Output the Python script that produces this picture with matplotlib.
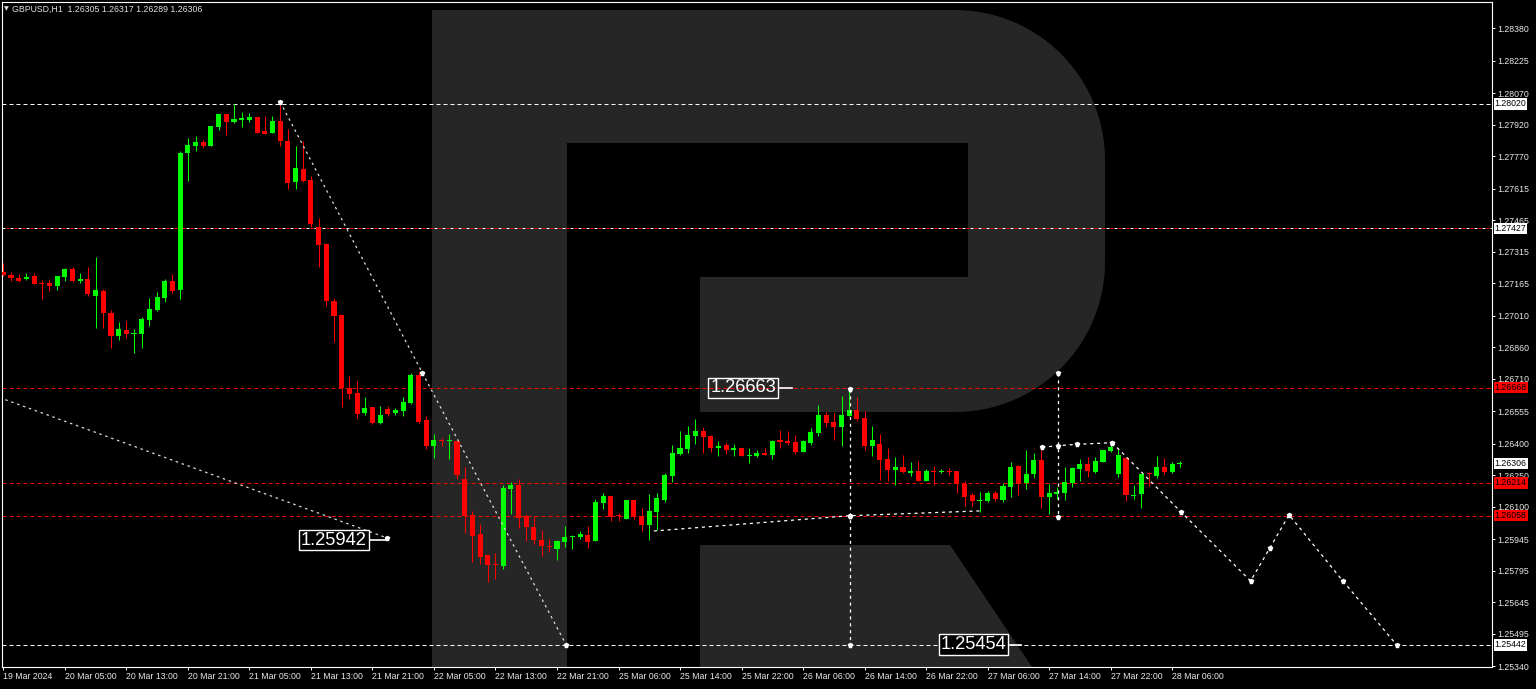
import matplotlib
matplotlib.use("Agg")
import matplotlib.pyplot as plt
import numpy as np
from matplotlib.patches import Polygon
from matplotlib.transforms import blended_transform_factory

plt.rcParams['font.family'] = ['Liberation Sans', 'DejaVu Sans']

header_text = "GBPUSD,H1  1.26305 1.26317 1.26289 1.26306"

opens = [1.27219, 1.27205, 1.27192, 1.27186, 1.27200, 1.27167, 1.27169, 1.27153, 1.27197, 1.27234,
         1.27178, 1.27188, 1.27104, 1.27130, 1.27026, 1.26916, 1.26943, 1.26924, 1.26924, 1.26989,
         1.27038, 1.27096, 1.27178, 1.27135, 1.27788, 1.27820, 1.27839, 1.27820, 1.27912, 1.27971,
         1.27936, 1.27944, 1.27942, 1.27958, 1.27891, 1.27883, 1.27939, 1.27844, 1.27650, 1.27709,
         1.27658, 1.27432, 1.27351, 1.27081, 1.27016, 1.26665, 1.26641, 1.26546, 1.26576, 1.26499,
         1.26567, 1.26549, 1.26557, 1.26594, 1.26729, 1.26513, 1.26389, 1.26420, 1.26413, 1.26414,
         1.26233, 1.26062, 1.25971, 1.25870, 1.25830, 1.25820, 1.26187, 1.26203, 1.26058, 1.26004,
         1.25942, 1.25915, 1.25901, 1.25934, 1.25958, 1.25957, 1.25966, 1.25939, 1.26119, 1.26151,
         1.26060, 1.26044, 1.26131, 1.26057, 1.26012, 1.26076, 1.26133, 1.26247, 1.26352, 1.26375,
         1.26439, 1.26462, 1.26439, 1.26382, 1.26394, 1.26371, 1.26379, 1.26344, 1.26343, 1.26357,
         1.26347, 1.26419, 1.26416, 1.26411, 1.26362, 1.26406, 1.26452, 1.26540, 1.26503, 1.26481,
         1.26535, 1.26562, 1.26525, 1.26389, 1.26401, 1.26328, 1.26275, 1.26292, 1.26260, 1.26270,
         1.26225, 1.26270, 1.26265, 1.26271, 1.26270, 1.26211, 1.26158, 1.26127, 1.26127, 1.26168,
         1.26133, 1.26196, 1.26297, 1.26213, 1.26256, 1.26325, 1.26146, 1.26162, 1.26168, 1.26214,
         1.26279, 1.26305, 1.26268, 1.26316, 1.26367, 1.26257, 1.26332, 1.26152, 1.26160, 1.26263,
         1.26247, 1.26292, 1.26268, 1.26305]
highs = [1.27262, 1.27218, 1.27209, 1.27215, 1.27215, 1.27181, 1.27181, 1.27202, 1.27239, 1.27242,
         1.27215, 1.27242, 1.27291, 1.27140, 1.27038, 1.26981, 1.26985, 1.26948, 1.27004, 1.27096,
         1.27123, 1.27188, 1.27210, 1.27796, 1.27859, 1.27866, 1.27847, 1.27917, 1.27974, 1.27973,
         1.28019, 1.27983, 1.27976, 1.27960, 1.27961, 1.27961, 1.28030, 1.27901, 1.27820, 1.27845,
         1.27677, 1.27475, 1.27356, 1.27094, 1.27018, 1.26724, 1.26702, 1.26625, 1.26578, 1.26581,
         1.26581, 1.26573, 1.26624, 1.26738, 1.26744, 1.26533, 1.26448, 1.26430, 1.26448, 1.26419,
         1.26290, 1.26081, 1.26019, 1.25872, 1.25881, 1.26203, 1.26219, 1.26233, 1.26066, 1.26055,
         1.25989, 1.25947, 1.25940, 1.26008, 1.25965, 1.25985, 1.26008, 1.26136, 1.26168, 1.26153,
         1.26070, 1.26134, 1.26133, 1.26094, 1.26163, 1.26168, 1.26260, 1.26394, 1.26462, 1.26486,
         1.26518, 1.26481, 1.26441, 1.26416, 1.26403, 1.26398, 1.26381, 1.26379, 1.26371, 1.26379,
         1.26420, 1.26467, 1.26462, 1.26443, 1.26420, 1.26476, 1.26586, 1.26552, 1.26548, 1.26627,
         1.26663, 1.26622, 1.26557, 1.26486, 1.26448, 1.26379, 1.26338, 1.26346, 1.26316, 1.26319,
         1.26281, 1.26295, 1.26280, 1.26284, 1.26272, 1.26225, 1.26168, 1.26171, 1.26176, 1.26175,
         1.26213, 1.26316, 1.26299, 1.26371, 1.26356, 1.26384, 1.26209, 1.26196, 1.26292, 1.26289,
         1.26328, 1.26336, 1.26336, 1.26373, 1.26406, 1.26382, 1.26334, 1.26203, 1.26259, 1.26268,
         1.26343, 1.26332, 1.26313, 1.26317]
lows = [1.27200, 1.27178, 1.27172, 1.27181, 1.27160, 1.27091, 1.27130, 1.27135, 1.27178, 1.27172,
        1.27169, 1.27104, 1.26954, 1.26954, 1.26857, 1.26897, 1.26906, 1.26835, 1.26857, 1.26964,
        1.27034, 1.27078, 1.27118, 1.27091, 1.27655, 1.27797, 1.27812, 1.27818, 1.27898, 1.27874,
        1.27930, 1.27912, 1.27936, 1.27881, 1.27875, 1.27881, 1.27820, 1.27614, 1.27614, 1.27647,
        1.27435, 1.27245, 1.27059, 1.26887, 1.26578, 1.26614, 1.26525, 1.26538, 1.26494, 1.26494,
        1.26535, 1.26538, 1.26535, 1.26591, 1.26499, 1.26375, 1.26335, 1.26392, 1.26328, 1.26232,
        1.25976, 1.25839, 1.25830, 1.25742, 1.25755, 1.25806, 1.26066, 1.25998, 1.25939, 1.25923,
        1.25866, 1.25887, 1.25847, 1.25911, 1.25901, 1.25947, 1.25906, 1.25937, 1.26090, 1.26034,
        1.26034, 1.26042, 1.26044, 1.25987, 1.25942, 1.25990, 1.26122, 1.26220, 1.26347, 1.26357,
        1.26400, 1.26357, 1.26362, 1.26343, 1.26352, 1.26343, 1.26341, 1.26311, 1.26337, 1.26347,
        1.26330, 1.26379, 1.26394, 1.26352, 1.26360, 1.26394, 1.26439, 1.26480, 1.26420, 1.26389,
        1.26533, 1.26508, 1.26371, 1.26343, 1.26230, 1.26225, 1.26206, 1.26260, 1.26247, 1.26223,
        1.26223, 1.26206, 1.26263, 1.26252, 1.26166, 1.26104, 1.26104, 1.26077, 1.26125, 1.26127,
        1.26122, 1.26146, 1.26156, 1.26184, 1.26238, 1.26097, 1.26066, 1.26139, 1.26133, 1.26196,
        1.26225, 1.26241, 1.26260, 1.26314, 1.26363, 1.26244, 1.26128, 1.26136, 1.26096, 1.26198,
        1.26236, 1.26257, 1.26260, 1.26289]
closes = [1.27205, 1.27191, 1.27178, 1.27197, 1.27162, 1.27162, 1.27153, 1.27200, 1.27234, 1.27178,
          1.27188, 1.27113, 1.27135, 1.27026, 1.26916, 1.26948, 1.26925, 1.26929, 1.26994, 1.27043,
          1.27100, 1.27178, 1.27130, 1.27788, 1.27825, 1.27839, 1.27820, 1.27915, 1.27971, 1.27936,
          1.27949, 1.27952, 1.27958, 1.27883, 1.27877, 1.27939, 1.27844, 1.27642, 1.27715, 1.27653,
          1.27450, 1.27350, 1.27083, 1.27011, 1.26665, 1.26637, 1.26543, 1.26571, 1.26499, 1.26538,
          1.26541, 1.26562, 1.26600, 1.26729, 1.26506, 1.26389, 1.26419, 1.26413, 1.26420, 1.26251,
          1.26055, 1.25963, 1.25861, 1.25825, 1.25825, 1.26192, 1.26203, 1.26049, 1.26004, 1.25942,
          1.25912, 1.25908, 1.25938, 1.25957, 1.25963, 1.25973, 1.25934, 1.26122, 1.26151, 1.26051,
          1.26055, 1.26132, 1.26054, 1.26014, 1.26081, 1.26141, 1.26251, 1.26357, 1.26379, 1.26443,
          1.26462, 1.26435, 1.26379, 1.26389, 1.26370, 1.26381, 1.26343, 1.26349, 1.26358, 1.26349,
          1.26416, 1.26409, 1.26406, 1.26360, 1.26416, 1.26457, 1.26540, 1.26499, 1.26481, 1.26540,
          1.26562, 1.26520, 1.26389, 1.26419, 1.26325, 1.26275, 1.26292, 1.26265, 1.26270, 1.26225,
          1.26270, 1.26265, 1.26270, 1.26266, 1.26211, 1.26149, 1.26130, 1.26133, 1.26168, 1.26136,
          1.26200, 1.26292, 1.26211, 1.26256, 1.26325, 1.26146, 1.26164, 1.26173, 1.26219, 1.26287,
          1.26305, 1.26270, 1.26319, 1.26371, 1.26387, 1.26347, 1.26156, 1.26158, 1.26257, 1.26256,
          1.26292, 1.26265, 1.26306, 1.26306]

x_tick_pos = [0, 8, 16, 24, 32, 40, 48, 56, 64, 72, 80, 88, 96, 104, 112, 120, 128, 136, 144, 152]
x_tick_labels = ["19 Mar 2024", "20 Mar 05:00", "20 Mar 13:00", "20 Mar 21:00", "21 Mar 05:00",
                 "21 Mar 13:00", "21 Mar 21:00", "22 Mar 05:00", "22 Mar 13:00", "22 Mar 21:00",
                 "25 Mar 06:00", "25 Mar 14:00", "25 Mar 22:00", "26 Mar 06:00", "26 Mar 14:00",
                 "26 Mar 22:00", "27 Mar 06:00", "27 Mar 14:00", "27 Mar 22:00", "28 Mar 06:00"]
y_tick_values = [1.28380, 1.28225, 1.28070, 1.27920, 1.27770, 1.27615, 1.27465, 1.27315, 1.27165,
                 1.27010, 1.26860, 1.26710, 1.26555, 1.26400, 1.26250, 1.26100, 1.25945, 1.25795,
                 1.25645, 1.25495, 1.25340]

level_prices = [1.28020, 1.27427, 1.26668, 1.26214, 1.26058, 1.25442]
level_colors = ["white", "white", "red", "red", "red", "white"]
current_price = 1.26306

lineA_x = [36, 54.5, 73.2]
lineA_y = [1.28030, 1.26738, 1.25442]
lineB_x = [-0.5, 49.9]
lineB_y = [1.26621, 1.25952]
lineC_x = [84.6, 110.1, 127.1]
lineC_y = [1.25985, 1.26058, 1.26081]
vert1_x = 110.1
vert1_y = [1.26663, 1.26058, 1.25442]
vert2_x = 137.15
vert2_y = [1.26737, 1.26051]
lineF_x = [135.1, 137.15, 139.6, 144.2]
lineF_y = [1.26384, 1.26392, 1.26398, 1.26406]
forecast_x = [144.2, 153.2, 162.2, 164.7, 167.2, 174.2, 181.2]
forecast_y = [1.26406, 1.26074, 1.25747, 1.25904, 1.26062, 1.25747, 1.25442]

big_labels = ["1.26663", "1.25942", "1.25454"]
big_label_x = [96.2, 43.0, 126.2]
big_label_y = [1.26667, 1.25942, 1.25444]
big_label_tip = [102.5, 49.9, 132.3]

# ---------------------------------------------------------------
W, H = 1536, 689
fig = plt.figure(figsize=(W / 100, H / 100), dpi=100, facecolor="black")
L_px, R_px, T_px, B_px = 2, 1492, 2, 667
ax = fig.add_axes([L_px / W, 1 - B_px / H, (R_px - L_px) / W, (B_px - T_px) / H])
ax.set_facecolor("black")
ax.set_xlim(-0.17, 193.59)
ax.set_ylim(1.25337, 1.28506)

# watermark (decoration, in pixel coordinates of the plot area)
def px(xp, yp):
    return ((xp - L_px) / (R_px - L_px), (B_px - yp) / (B_px - T_px))

wm = "#262626"
def poly(points, color, z):
    pts = [px(a, b) for a, b in points]
    ax.add_patch(Polygon(pts, closed=True, transform=ax.transAxes, facecolor=color,
                         edgecolor="none", zorder=z))

r = 150
t = np.linspace(0, np.pi / 2, 30)
bowl = [(432, 10)]
bowl += [(1105 - r + r * np.sin(a), 10 + r - r * np.cos(a)) for a in t]
bowl += [(1105 - r + r * np.cos(a), 412 - r + r * np.sin(a)) for a in t]
bowl += [(432, 412)]
poly(bowl, wm, 0.2)
poly([(432, 10), (567, 10), (567, 700), (432, 700)], wm, 0.21)
poly([(700, 545), (950, 545), (1032, 667), (700, 667)], wm, 0.21)
poly([(567, 143), (968, 143), (968, 277), (567, 277)], "black", 0.3)
poly([(567, 277), (700, 277), (700, 412), (567, 412)], "black", 0.3)

# horizontal levels
for p, c in zip(level_prices, level_colors):
    if p == 1.27427:
        ax.axhline(p, color="white", lw=0.72, ls=(0, (3, 5)), zorder=1)
        ax.axhline(p, color="red", lw=0.72, ls=(4, (3, 5)), zorder=1)
    else:
        ax.axhline(p, color=c, lw=0.72, ls=(0, (4, 3)), zorder=1)

# candles
idx = np.arange(len(opens))
o = np.array(opens); h = np.array(highs); l = np.array(lows); c = np.array(closes)
up = c >= o
colors = np.where(up, "#00ff00", "#ff0000")
ax.vlines(idx, l, h, colors=colors, lw=0.75, zorder=2)
bottoms = np.minimum(o, c)
heights = np.maximum(np.abs(c - o), 0.00005)
ax.bar(idx, heights, bottom=bottoms, width=0.66, color=colors, linewidth=0, zorder=3)

# analysis lines
dot = dict(color="#dcdcdc", lw=0.9, ls=(0, (2, 3)), zorder=4)
dash = dict(color="white", lw=0.9, ls=(0, (2.5, 3)), zorder=4)
ax.plot(lineA_x, lineA_y, **dot)
ax.plot(lineB_x, lineB_y, **dot)
ax.plot(lineC_x, lineC_y, **dash)
ax.plot([vert1_x, vert1_x], [vert1_y[0], vert1_y[-1]], **dash)
ax.plot([vert2_x, vert2_x], [vert2_y[0], vert2_y[-1]], **dash)
ax.plot(lineF_x, lineF_y, **dash)
ax.plot(forecast_x, forecast_y, **dash)

mk = dict(marker="p", ms=3.6, color="white", ls="none", zorder=5)
ax.plot(lineA_x, lineA_y, **mk)
ax.plot(lineB_x[1:], lineB_y[1:], **mk)
ax.plot([lineC_x[1]], [lineC_y[1]], **mk)
ax.plot([vert1_x] * len(vert1_y), vert1_y, **mk)
ax.plot([vert2_x] * len(vert2_y), vert2_y, **mk)
ax.plot(lineF_x, lineF_y, **mk)
ax.plot(forecast_x, forecast_y, **mk)

for txt, bx, by, tip in zip(big_labels, big_label_x, big_label_y, big_label_tip):
    face = "black" if txt != "1.26663" else "none"
    ax.text(bx, by, txt, color="white", fontsize=13.2, ha="center", va="center", zorder=6,
            bbox=dict(boxstyle="square,pad=0.1", fc=face, ec="white", lw=1.0))
    ax.plot([bx + 4.7, tip], [by, by], color="white", lw=1.2, zorder=6)

# axes styling
for s in ax.spines.values():
    s.set_color("white")
    s.set_linewidth(0.8)
ax.yaxis.tick_right()
ax.set_yticks(y_tick_values)
ax.set_yticklabels([f"{v:.5f}" for v in y_tick_values])
ax.set_xticks(x_tick_pos)
ax.set_xticklabels(x_tick_labels, ha="left")
ax.tick_params(axis="both", colors="white", labelcolor="#e8e8e8", labelsize=6.3,
               length=2.5, width=0.7, direction="out")
ax.tick_params(axis="y", pad=1.6)
ax.tick_params(axis="x", pad=1.4)

# price labels on the right axis
tr = blended_transform_factory(ax.transAxes, ax.transData)
for p, cc in zip(level_prices + [current_price], level_colors + ["white"]):
    ax.text(1.0018, p, f"{p:.5f}", transform=tr, ha="left", va="center", fontsize=6.3,
            color="black", clip_on=False, zorder=7,
            bbox=dict(boxstyle="square,pad=0.12", fc=cc, ec="none"))

# header
fig.text(4 / W, 1 - 9 / H, "\u25bc", color="#e0e0e0", fontsize=4.5, va="center", ha="left",
         family=["DejaVu Sans"])
fig.text(12 / W, 1 - 9 / H, header_text, color="#e0e0e0", fontsize=6.3, va="center", ha="left")

fig.savefig("out.png", dpi=100, facecolor="black")
